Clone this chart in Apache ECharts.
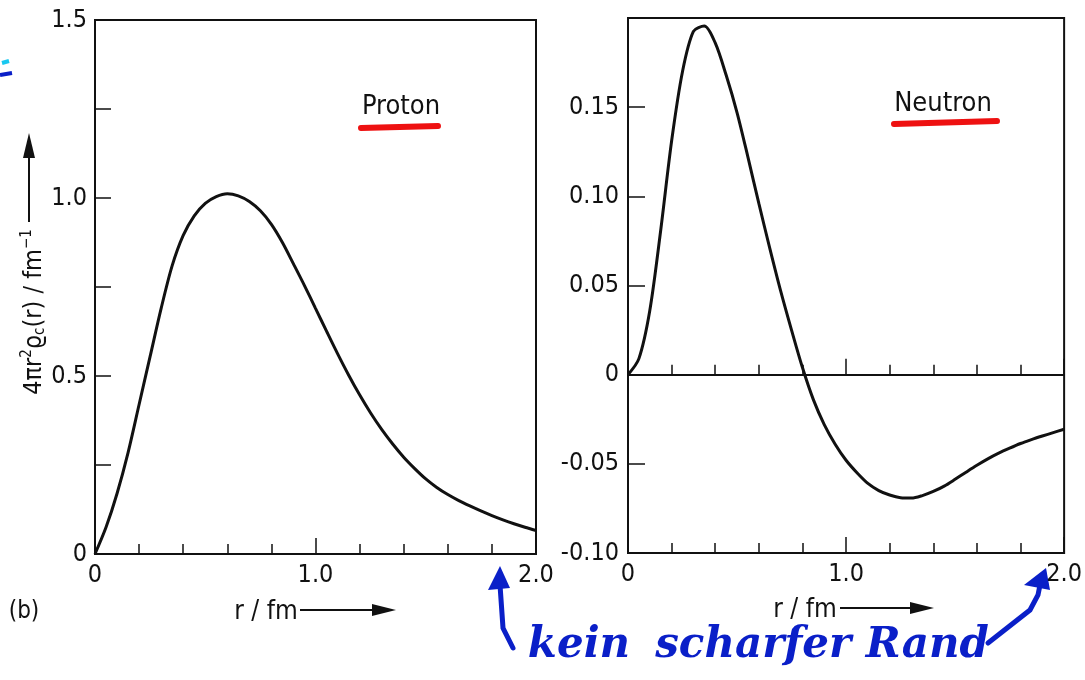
<!DOCTYPE html>
<html>
<head>
<meta charset="utf-8">
<script src="https://cdn.jsdelivr.net/npm/echarts@6/dist/echarts.min.js"></script>
<style>
  html, body { margin: 0; padding: 0; background: #fff; }
  #chart { width: 1085px; height: 680px; }
</style>
</head>
<body>
<div id="chart"></div>
<script>
// radius values (fm) and densities
const rProton = [0, 0.05, 0.1, 0.15, 0.2, 0.25, 0.3, 0.35, 0.4, 0.45, 0.5, 0.55, 0.6, 0.65, 0.7, 0.75, 0.8, 0.85, 0.9, 0.95, 1.0,
  1.05, 1.1, 1.15, 1.2, 1.25, 1.3, 1.35, 1.4, 1.45, 1.5, 1.55, 1.6, 1.65, 1.7, 1.75, 1.8, 1.85, 1.9, 1.95, 2.0];
const proton = [0, 0.075, 0.17, 0.285, 0.42, 0.555, 0.69, 0.81, 0.895, 0.95, 0.985, 1.004, 1.012, 1.006, 0.99, 0.964, 0.926, 0.875, 0.815, 0.754, 0.69,
  0.626, 0.563, 0.503, 0.447, 0.396, 0.35, 0.309, 0.272, 0.24, 0.211, 0.187, 0.167, 0.15, 0.135, 0.121, 0.108, 0.096, 0.085, 0.075, 0.066];

const rNeutron = [0, 0.05, 0.1, 0.15, 0.2, 0.25, 0.3, 0.35, 0.4, 0.45, 0.5, 0.55, 0.6, 0.65, 0.7, 0.75, 0.8, 0.85, 0.9, 0.95, 1.0,
  1.05, 1.1, 1.15, 1.2, 1.25, 1.3, 1.35, 1.4, 1.45, 1.5, 1.55, 1.6, 1.65, 1.7, 1.75, 1.8, 1.85, 1.9, 1.95, 2.0];
const neutron = [0, 0.009, 0.036, 0.081, 0.131, 0.17, 0.1925, 0.1955, 0.186, 0.168, 0.147, 0.122, 0.096, 0.071, 0.047, 0.025, 0.004, -0.014, -0.028, -0.039, -0.048,
  -0.055, -0.061, -0.065, -0.0675, -0.069, -0.0692, -0.0678, -0.0655, -0.0625, -0.0587, -0.0547, -0.0508, -0.0472, -0.044, -0.0412, -0.0386, -0.0364, -0.0344, -0.0325, -0.0306];

const FONT = "'Liberation Sans Narrow', 'DejaVu Sans Condensed', sans-serif";
const INK = "#111";
const BLUE = "#0a1fc8";

const chart = echarts.init(document.getElementById("chart"));

function xAxisCfg(gridIndex, extra) {
  return Object.assign({
    gridIndex: gridIndex,
    type: "value",
    min: 0, max: 2, interval: 1,
    position: "bottom",
    axisLine: { onZero: false, lineStyle: { color: INK, width: 2 } },
    axisTick: { inside: true, length: 16, lineStyle: { color: INK, width: 1.5 } },
    minorTick: { show: true, splitNumber: 5, length: 10, lineStyle: { color: INK, width: 1.5 } },
    splitLine: { show: false },
    axisLabel: {
      color: INK, fontFamily: FONT, fontSize: 25, margin: 9,
      formatter: v => v === 0 ? "0" : v.toFixed(1)
    }
  }, extra || {});
}

const option = {
  backgroundColor: "#fff",
  animation: false,
  grid: [
    { left: 95, top: 20, width: 441, height: 534, show: true, borderColor: INK, borderWidth: 2 },
    { left: 628, top: 18, width: 441, height: 535, show: true, borderColor: INK, borderWidth: 2 }
  ],
  xAxis: [
    xAxisCfg(0),
    xAxisCfg(1),
    // zero line with ticks in the neutron panel
    xAxisCfg(1, {
      axisLine: { onZero: true, onZeroAxisIndex: 1, lineStyle: { color: INK, width: 2 } },
      axisLabel: { show: false }
    })
  ],
  yAxis: [
    {
      gridIndex: 0, type: "value", min: 0, max: 1.5, interval: 0.5,
      axisLine: { onZero: false, lineStyle: { color: INK, width: 2 } },
      axisTick: { inside: true, length: 16, lineStyle: { color: INK, width: 1.5 } },
      minorTick: { show: true, splitNumber: 2, length: 16, lineStyle: { color: INK, width: 1.5 } },
      splitLine: { show: false },
      axisLabel: {
        color: INK, fontFamily: FONT, fontSize: 25, margin: 8,
        formatter: v => v === 0 ? "0" : v.toFixed(1)
      }
    },
    {
      gridIndex: 1, type: "value", min: -0.1, max: 0.2, interval: 0.05,
      axisLine: { onZero: false, lineStyle: { color: INK, width: 2 } },
      axisTick: { inside: true, length: 17, lineStyle: { color: INK, width: 1.5 } },
      splitLine: { show: false },
      axisLabel: {
        color: INK, fontFamily: FONT, fontSize: 25, margin: 9,
        formatter: v => {
          if (v > 0.17) return "";
          if (Math.abs(v) < 1e-9) return "0";
          return v.toFixed(2);
        }
      }
    }
  ],
  series: [
    {
      name: "Proton", type: "line", xAxisIndex: 0, yAxisIndex: 0,
      smooth: 0.3, showSymbol: false,
      lineStyle: { color: INK, width: 3 },
      data: rProton.map((r, i) => [r, proton[i]])
    },
    {
      name: "Neutron", type: "line", xAxisIndex: 1, yAxisIndex: 1,
      smooth: 0.3, showSymbol: false,
      lineStyle: { color: INK, width: 3 },
      data: rNeutron.map((r, i) => [r, neutron[i]])
    }
  ],
  graphic: [
    // panel labels with red underline
    { type: "line", shape: { x1: 361, y1: 128, x2: 438, y2: 126 }, style: { stroke: "#ee1111", lineWidth: 6, lineCap: "round" } },
    { type: "text", x: 401, y: 107, style: { text: "Proton", fontFamily: FONT, fontSize: 27, fill: INK, textAlign: "center", textVerticalAlign: "middle" } },
    { type: "line", shape: { x1: 894, y1: 124, x2: 997, y2: 121 }, style: { stroke: "#ee1111", lineWidth: 6, lineCap: "round" } },
    { type: "text", x: 943, y: 104, style: { text: "Neutron", fontFamily: FONT, fontSize: 27, fill: INK, textAlign: "center", textVerticalAlign: "middle" } },

    // y-axis name, rotated
    {
      type: "text", x: 34, y: 312, rotation: Math.PI / 2,
      style: {
        text: "4πr{sup|2}ϱ{sub|c}(r) / fm{sup|−1}",
        fontFamily: FONT, fontSize: 25, fill: INK,
        textAlign: "center", textVerticalAlign: "middle",
        rich: {
          sup: { fontSize: 15, fontFamily: FONT, fill: INK, verticalAlign: "top", lineHeight: 28 },
          sub: { fontSize: 15, fontFamily: FONT, fill: INK, verticalAlign: "bottom", lineHeight: 28 }
        }
      }
    },
    { type: "line", shape: { x1: 29, y1: 222, x2: 29, y2: 152 }, style: { stroke: INK, lineWidth: 2 } },
    { type: "polygon", shape: { points: [[23, 158], [35, 158], [29, 133]] }, style: { fill: INK } },

    // x-axis names with arrows
    { type: "text", x: 266, y: 612, style: { text: "r / fm", fontFamily: FONT, fontSize: 26, fill: INK, textAlign: "center", textVerticalAlign: "middle" } },
    { type: "line", shape: { x1: 300, y1: 610, x2: 378, y2: 610 }, style: { stroke: INK, lineWidth: 2 } },
    { type: "polygon", shape: { points: [[372, 604], [372, 616], [396, 610]] }, style: { fill: INK } },
    { type: "text", x: 805, y: 610, style: { text: "r / fm", fontFamily: FONT, fontSize: 26, fill: INK, textAlign: "center", textVerticalAlign: "middle" } },
    { type: "line", shape: { x1: 840, y1: 608, x2: 916, y2: 608 }, style: { stroke: INK, lineWidth: 2 } },
    { type: "polygon", shape: { points: [[910, 602], [910, 614], [934, 608]] }, style: { fill: INK } },

    { type: "text", x: 24, y: 612, style: { text: "(b)", fontFamily: FONT, fontSize: 24, fill: INK, textAlign: "center", textVerticalAlign: "middle" } },

    // handwritten blue note
    { type: "text", x: 579, y: 646, style: { text: "kein", fontFamily: "'DejaVu Serif', serif", fontStyle: "italic", fontWeight: "bold", fontSize: 42, fill: BLUE, textAlign: "center", textVerticalAlign: "middle" } },
    { type: "text", x: 822, y: 646, style: { text: "scharfer Rand", fontFamily: "'DejaVu Serif', serif", fontStyle: "italic", fontWeight: "bold", fontSize: 42, fill: BLUE, textAlign: "center", textVerticalAlign: "middle" } },
    { type: "polyline", shape: { points: [[513, 648], [503, 628], [500, 585]] }, style: { stroke: BLUE, lineWidth: 5, fill: null, lineCap: "round" } },
    { type: "polygon", shape: { points: [[488, 590], [510, 588], [500, 566]] }, style: { fill: BLUE } },
    { type: "polyline", shape: { points: [[988, 643], [1030, 610], [1038, 595], [1040, 585]] }, style: { stroke: BLUE, lineWidth: 5, fill: null, lineCap: "round" } },
    { type: "polygon", shape: { points: [[1024, 585], [1050, 590], [1046, 568]] }, style: { fill: BLUE } },
    { type: "polyline", shape: { points: [[2, 63], [9, 61]] }, style: { stroke: "#18c8f0", lineWidth: 4, fill: null } },
    { type: "polyline", shape: { points: [[0, 75], [12, 73]] }, style: { stroke: BLUE, lineWidth: 4, fill: null } }
  ]
};

chart.setOption(option);
</script>
</body>
</html>
